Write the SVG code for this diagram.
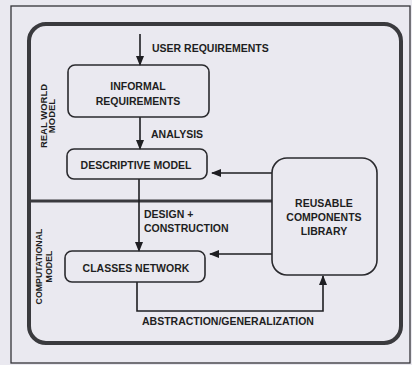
<svg xmlns="http://www.w3.org/2000/svg" width="412" height="365" viewBox="0 0 412 365">
<defs>
<marker id="ah" markerWidth="10" markerHeight="8" refX="9" refY="4" orient="auto" markerUnits="userSpaceOnUse">
<path d="M0,0 L10,4 L0,8 Z" fill="#1e1e22"/>
</marker>
<style>
.t{font-family:"Liberation Sans",Arial,sans-serif;font-weight:bold;font-size:10.5px;fill:#1e1e22}
.c{text-anchor:middle}
.side{font-family:"Liberation Sans",Arial,sans-serif;font-weight:bold;fill:#1e1e22;text-anchor:middle}
.box{fill:none;stroke:#2a2a2e;stroke-width:1.6}
.con{fill:none;stroke:#1e1e22;stroke-width:1.6}
</style>
</defs>
<rect width="412" height="365" fill="#eae9f0"/>
<rect x="11" y="6" width="399" height="357" fill="none" stroke="#333338" stroke-width="1.3"/>
<g id="frame">
<rect x="29" y="24" width="372" height="319" rx="17" fill="none" stroke="#3a3a3e" stroke-width="4"/>
<line x1="29" y1="201" x2="272" y2="201" stroke="#3a3a3e" stroke-width="3"/>
<text class="side" font-size="9.5" transform="translate(46.5,116) rotate(-90)">REAL WORLD</text>
<text class="side" font-size="9.5" transform="translate(54.5,116) rotate(-90)">MODEL</text>
<text class="side" font-size="8.8" transform="translate(42,266.5) rotate(-90)">COMPUTATIONAL</text>
<text class="side" font-size="8.8" transform="translate(52,266.5) rotate(-90)">MODEL</text>
</g>
<g id="connectors">
<line class="con" x1="140" y1="34" x2="140" y2="65" marker-end="url(#ah)"/>
<line class="con" x1="140" y1="117" x2="140" y2="149" marker-end="url(#ah)"/>
<line class="con" x1="139" y1="179" x2="139" y2="251" marker-end="url(#ah)"/>
<line class="con" x1="272" y1="173" x2="212" y2="173" marker-end="url(#ah)"/>
<line class="con" x1="272" y1="254" x2="210" y2="254" marker-end="url(#ah)"/>
<polyline class="con" points="137,282 137,311 323,311 323,276" marker-end="url(#ah)"/>
<text class="t" x="152" y="52">USER REQUIREMENTS</text>
<text class="t" x="151" y="138">ANALYSIS</text>
<text class="t" x="144" y="218">DESIGN +</text>
<text class="t" x="144" y="231.5">CONSTRUCTION</text>
<text class="t" x="142" y="325">ABSTRACTION/GENERALIZATION</text>
</g>
<g id="informal">
<rect class="box" x="68" y="65" width="141" height="52" rx="7"/>
<text class="t c" x="138" y="90">INFORMAL</text>
<text class="t c" x="138" y="105">REQUIREMENTS</text>
</g>
<g id="descriptive">
<rect class="box" x="67" y="149" width="140" height="30" rx="7"/>
<text class="t c" x="136" y="169">DESCRIPTIVE MODEL</text>
</g>
<g id="classes">
<rect class="box" x="65" y="251" width="140" height="31" rx="7"/>
<text class="t c" x="136" y="272">CLASSES NETWORK</text>
</g>
<g id="library">
<rect class="box" x="272" y="158" width="105" height="117" rx="15"/>
<text class="t c" x="324" y="206.5">REUSABLE</text>
<text class="t c" x="324" y="220.5">COMPONENTS</text>
<text class="t c" x="324" y="234.5">LIBRARY</text>
</g>
</svg>
